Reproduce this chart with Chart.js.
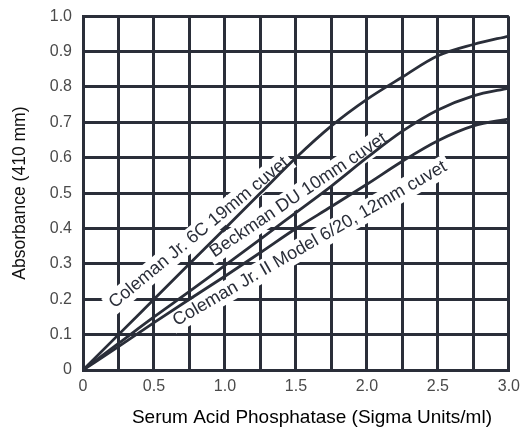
<!DOCTYPE html>
<html>
<head>
<meta charset="utf-8">
<script src="https://cdn.jsdelivr.net/npm/chart.js@4/dist/chart.umd.min.js"></script>
<style>
  html, body { margin: 0; padding: 0; background: #fff; }
  #wrap { width: 527px; height: 438px; position: relative; }
</style>
</head>
<body>
<div id="wrap"><canvas id="c" width="527" height="438"></canvas></div>
<script>
// ---- data ----
const xValues    = [0, 0.25, 0.5, 0.75, 1.0, 1.25, 1.5, 1.75, 2.0, 2.25, 2.5, 2.75, 3.0];
const coleman6C  = [0, 0.10, 0.20, 0.30, 0.40, 0.50, 0.60, 0.69, 0.765, 0.828, 0.888, 0.920, 0.944];
const beckmanDU  = [0, 0.075, 0.15, 0.222, 0.296, 0.37, 0.445, 0.52, 0.60, 0.675, 0.735, 0.775, 0.797];
const colemanII  = [0, 0.066, 0.134, 0.20, 0.265, 0.332, 0.40, 0.462, 0.525, 0.59, 0.648, 0.690, 0.710];
const seriesNames = ['Coleman Jr. 6C 19mm cuvet', 'Beckman DU 10mm cuvet', 'Coleman Jr. II Model 6/20, 12mm cuvet'];
const xTitle = 'Serum Acid Phosphatase (Sigma Units/ml)';
const yTitle = 'Absorbance (410 mm)';

const ink = '#2a2e39';
function pts(ys) { return xValues.map((x, i) => ({ x: x, y: ys[i] })); }

// label placement (center in data coords, rotation in degrees)
const labelPlacement = [
  { cx: 0.816, cy: 0.388, angle: -39.5 },
  { cx: 1.517, cy: 0.494, angle: -34 },
  { cx: 1.598, cy: 0.357, angle: -30 }
];

const curveLabels = {
  id: 'curveLabels',
  beforeDatasetsDraw(chart) {
    const ctx = chart.ctx;
    const xs = chart.scales.x, ys = chart.scales.y;
    ctx.save();
    ctx.font = '18px "Liberation Sans", Arial, sans-serif';
    ctx.textAlign = 'center';
    ctx.textBaseline = 'middle';
    seriesNames.forEach((name, i) => {
      const p = labelPlacement[i];
      const px = xs.getPixelForValue(p.cx);
      const py = ys.getPixelForValue(p.cy);
      const w = ctx.measureText(name).width;
      ctx.save();
      ctx.translate(px, py);
      ctx.rotate(p.angle * Math.PI / 180);
      ctx.fillStyle = '#fff';
      ctx.fillRect(-w / 2 - 4, -11, w + 8, 22);
      ctx.fillStyle = ink;
      ctx.fillText(name, 0, 0);
      ctx.restore();
    });
    ctx.restore();
  },
  afterDraw(chart) {
    const ctx = chart.ctx;
    const a = chart.chartArea;
    ctx.save();
    ctx.font = '19px "Liberation Sans", Arial, sans-serif';
    ctx.fillStyle = '#000';
    ctx.textAlign = 'center';
    ctx.textBaseline = 'middle';
    ctx.fillText(xTitle, (a.left + a.right) / 2 + 16, 418);
    ctx.restore();
  }
};

new Chart(document.getElementById('c'), {
  type: 'line',
  data: {
    datasets: [coleman6C, beckmanDU, colemanII].map((ys, i) => ({
      label: seriesNames[i],
      data: pts(ys),
      borderColor: ink,
      borderWidth: 2.8,
      pointRadius: 0,
      fill: false,
      cubicInterpolationMode: 'monotone'
    }))
  },
  options: {
    responsive: false,
    animation: false,
    layout: { padding: { left: 0, right: 14, top: 0, bottom: 0 } },
    plugins: { legend: { display: false }, tooltip: { enabled: false } },
    scales: {
      x: {
        type: 'linear', min: 0, max: 3.0,
        ticks: {
          stepSize: 0.25, padding: 7, color: '#4a4a4a',
          font: { family: '"Liberation Sans", Arial, sans-serif', size: 16 },
          autoSkip: false, maxRotation: 0,
          callback: (v) => {
            if (Math.abs(v * 2 - Math.round(v * 2)) > 1e-6) return '';
            return v === 0 ? '0' : v.toFixed(1);
          }
        },
        grid: { color: ink, lineWidth: 3, drawTicks: false },
        border: { color: ink, width: 3 },
        afterFit: (s) => { s.height = 68; }
      },
      y: {
        type: 'linear', min: 0, max: 1.0,
        ticks: {
          stepSize: 0.1, padding: 11, color: '#4a4a4a',
          font: { family: '"Liberation Sans", Arial, sans-serif', size: 16, lineHeight: 0.65 },
          callback: (v) => v === 0 ? '0' : v.toFixed(1)
        },
        grid: { color: ink, lineWidth: 3, drawTicks: false },
        border: { color: ink, width: 3 },
        title: {
          display: true, text: yTitle, color: '#111',
          font: { family: '"Liberation Sans", Arial, sans-serif', size: 17.5 },
          padding: { top: 10, bottom: 0 }
        },
        afterFit: (s) => { s.width = 83; }
      }
    }
  },
  plugins: [curveLabels]
});
</script>
</body>
</html>
